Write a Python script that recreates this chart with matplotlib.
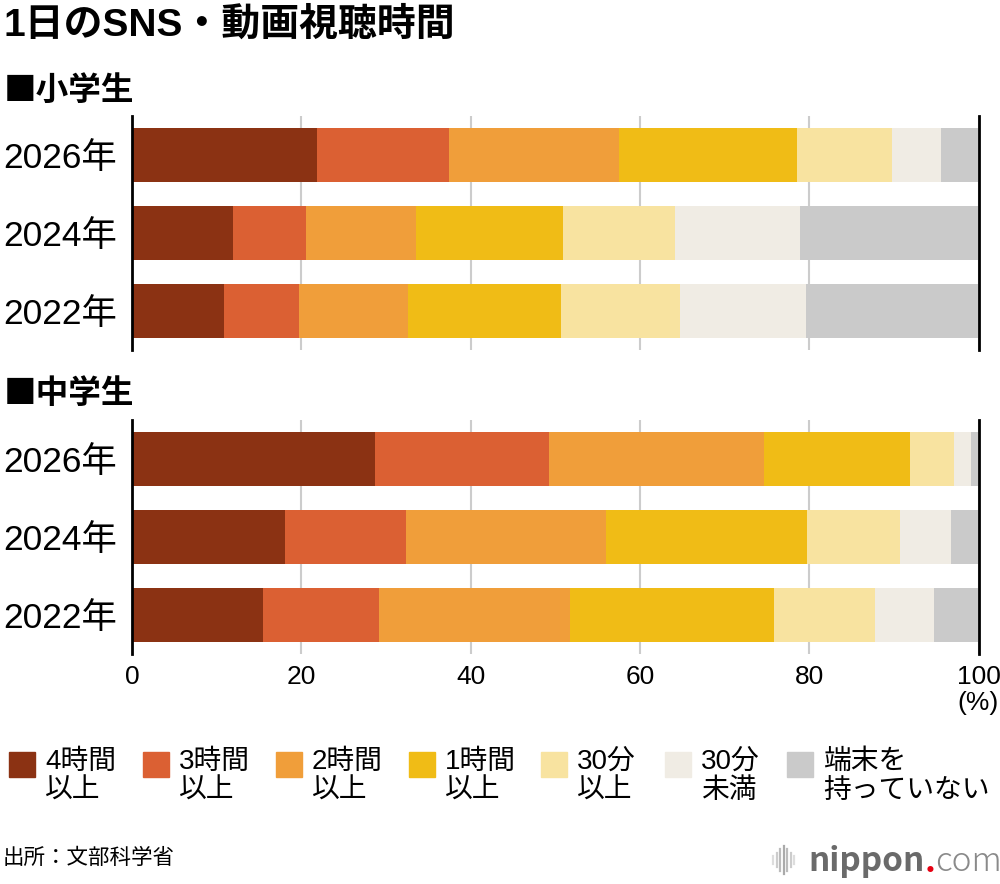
import matplotlib
matplotlib.use("Agg")
import matplotlib.pyplot as plt
from matplotlib import patches
from matplotlib.lines import Line2D
import numpy as np

plt.rcParams['font.family'] = ['Noto Sans CJK JP', 'DejaVu Sans']
LATIN_JP = ['Liberation Sans', 'Noto Sans CJK JP', 'DejaVu Sans']
NARROW = ['Liberation Sans Narrow', 'Liberation Sans', 'DejaVu Sans']

# data (percent), order of years: 2026, 2024, 2022
years = ['2026年', '2024年', '2022年']
categories = ['4時間\n以上', '3時間\n以上', '2時間\n以上', '1時間\n以上',
              '30分\n以上', '30分\n未満', '端末を\n持っていない']
colors = ['#8B3213', '#DB6033', '#F09E3A', '#F0BC16',
          '#F8E3A0', '#F0ECE4', '#CACACA']

elem_4h = [21.8, 11.9, 10.9]
elem_3h = [15.7, 8.7, 8.8]
elem_2h = [20.0, 13.0, 12.9]
elem_1h = [21.1, 17.3, 18.1]
elem_30up = [11.2, 13.3, 14.0]
elem_30less = [5.8, 14.7, 14.9]
elem_none = [4.5, 21.0, 20.6]

junior_4h = [28.7, 18.1, 15.5]
junior_3h = [20.6, 14.3, 13.7]
junior_2h = [25.4, 23.6, 22.6]
junior_1h = [17.2, 23.7, 24.0]
junior_30up = [5.2, 11.0, 12.0]
junior_30less = [2.0, 6.0, 7.0]
junior_none = [0.9, 3.3, 5.2]

elem = [elem_4h, elem_3h, elem_2h, elem_1h, elem_30up, elem_30less, elem_none]
junior = [junior_4h, junior_3h, junior_2h, junior_1h, junior_30up, junior_30less, junior_none]

W, H = 1000, 884
fig = plt.figure(figsize=(W / 100, H / 100), dpi=100)


def fy(px):
    return 1 - px / H


def draw_panel(ax, series, show_xlabels):
    y = np.arange(len(years))
    left = np.zeros(len(years))
    for vals, c in zip(series, colors):
        ax.barh(y, vals, left=left, height=0.69, color=c, zorder=2)
        left += np.array(vals)
    ax.set_xlim(0, 100)
    ax.set_ylim(len(years) - 0.5, -0.5)
    ax.set_yticks(y)
    ax.set_yticklabels(years, fontsize=25.5, family=LATIN_JP)
    ax.set_xticks([0, 20, 40, 60, 80, 100])
    ax.grid(axis='x', color='#CCCCCC', lw=1.5, zorder=0)
    ax.set_axisbelow(True)
    ax.tick_params(axis='both', length=0)
    ax.tick_params(axis='y', pad=11)
    ax.tick_params(axis='x', pad=8)
    if show_xlabels:
        ax.set_xticklabels([str(v) for v in [0, 20, 40, 60, 80, 100]],
                           fontsize=19, family=NARROW)
    else:
        ax.set_xticklabels([])
    for s in ['top', 'bottom']:
        ax.spines[s].set_visible(False)
    for s in ['left', 'right']:
        ax.spines[s].set_color('black')
        ax.spines[s].set_linewidth(2)
        ax.spines[s].set_zorder(3)


ax1 = fig.add_axes([0.132, fy(350), 0.8465, 234 / H])
ax2 = fig.add_axes([0.132, fy(654), 0.8465, 234 / H])
draw_panel(ax1, elem, False)
draw_panel(ax2, junior, True)

# titles
fig.text(0.004, fy(26), '1日のSNS・動画視聴時間', fontsize=28, fontweight='bold',
         va='center', ha='left', family=LATIN_JP)
fig.text(0.004, fy(90), '■小学生', fontsize=23.5, fontweight='bold', va='center')
fig.text(0.004, fy(393), '■中学生', fontsize=23.5, fontweight='bold', va='center')
fig.text(0.978, fy(703), '(%)', fontsize=19, ha='center', va='center', family=NARROW)

# legend
leg_x = [9, 143, 276, 409, 541, 665, 787]
for lx, lab, c in zip(leg_x, categories, colors):
    fig.add_artist(patches.Rectangle((lx / W, fy(777)), 26 / W, 25 / H,
                                     transform=fig.transFigure, color=c))
    fig.text((lx + 36) / W, fy(749), lab, fontsize=20, va='top', ha='left',
             linespacing=1.15, family=LATIN_JP)

# source
fig.text(0.003, fy(858), '出所：文部科学省', fontsize=15.5, va='center')

# nippon.com logo
heights = [8, 14, 22, 28, 22, 14, 8]
greys = ['#dddddd', '#cccccc', '#bbbbbb', '#aaaaaa', '#bbbbbb', '#cccccc', '#dddddd']
for i, (hh, g) in enumerate(zip(heights, greys)):
    x = (773 + i * 3.5) / W
    fig.add_artist(Line2D([x, x], [fy(860 + hh / 2), fy(860 - hh / 2)],
                          transform=fig.transFigure, color=g, lw=1.6))
t1 = fig.text(808 / W, fy(862), 'nippon', fontsize=24, fontweight='bold',
              color='#6a6a6a', va='center', ha='left')
fig.canvas.draw()
bb = t1.get_window_extent()
t2 = fig.text(bb.x1 / W, fy(862), '.', fontsize=24, fontweight='bold',
              color='#e60012', va='center', ha='left')
fig.canvas.draw()
bb2 = t2.get_window_extent()
fig.text(bb2.x1 / W, fy(862), 'com', fontsize=24, color='#8a8a8a',
         fontweight='light', va='center', ha='left')

fig.savefig('out.png', dpi=100)
